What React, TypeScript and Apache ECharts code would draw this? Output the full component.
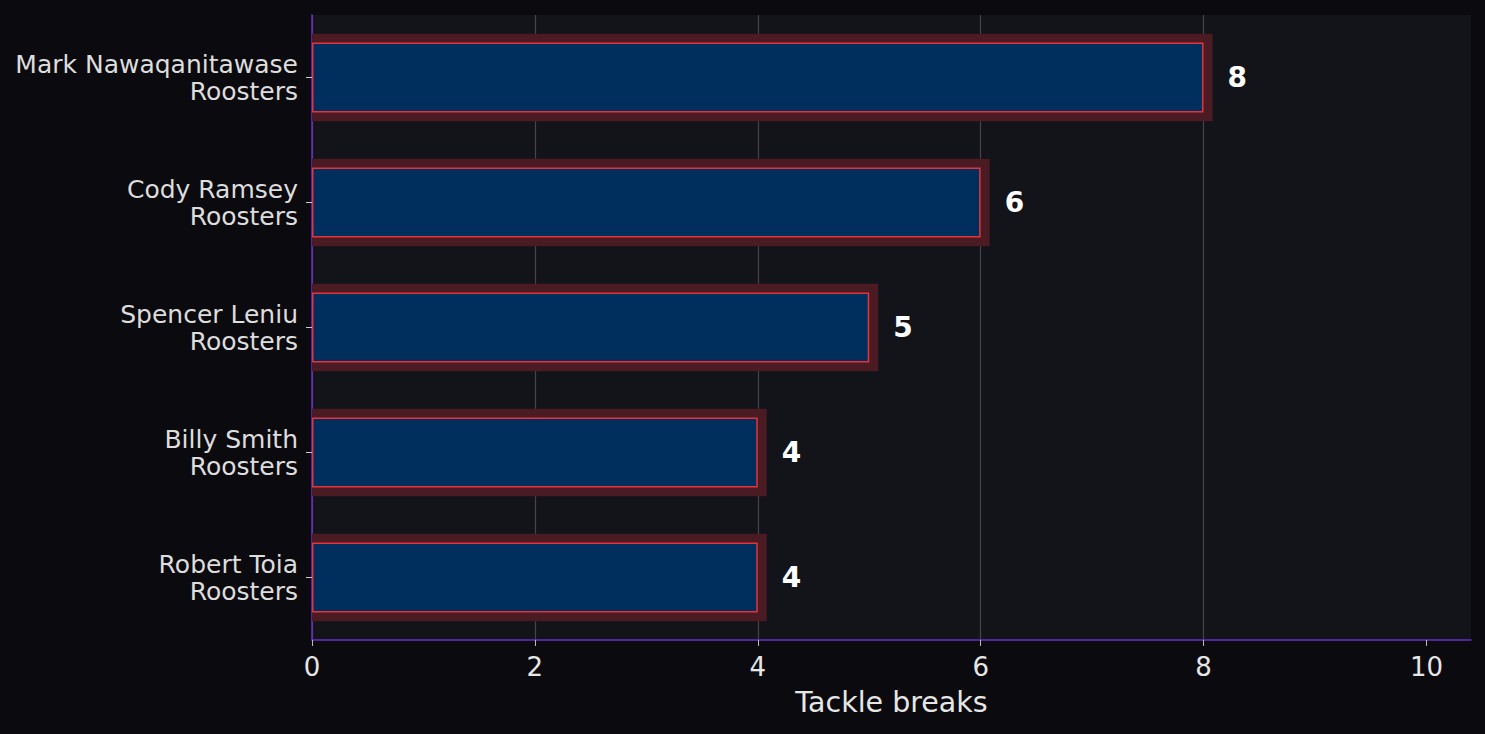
import { useEffect, useRef } from 'react';
import * as echarts from 'echarts';

const players = [
  'Mark Nawaqanitawase\nRoosters',
  'Cody Ramsey\nRoosters',
  'Spencer Leniu\nRoosters',
  'Billy Smith\nRoosters',
  'Robert Toia\nRoosters',
];
const tackleBreaks = [8, 6, 5, 4, 4];
const xTicks = [0, 2, 4, 6, 8, 10];

export default function App() {
  const ref = useRef<HTMLDivElement>(null);

  useEffect(() => {
    if (!ref.current) {
      return undefined;
    }

    const chart = echarts.init(ref.current, null, { renderer: 'svg' });
    const option: echarts.EChartsOption = {
      animation: false,
      backgroundColor: '#0b0a0e',
      textStyle: { fontFamily: 'DejaVu Sans' },
      grid: {
        show: true,
        backgroundColor: '#13131a',
        borderWidth: 0,
        left: 312,
        right: 14,
        top: 15,
        bottom: 94,
      },
      xAxis: {
        type: 'value',
        min: 0,
        max: 10.4,
        interval: 2,
        name: 'Tackle breaks',
        nameLocation: 'middle',
        nameGap: 48,
        nameTextStyle: { color: '#e6e6e6', fontSize: 28.5 },
        axisLine: { show: true, lineStyle: { color: '#6a2fc8', width: 1.5 } },
        axisTick: { show: true, length: 6, lineStyle: { color: '#bbbbbb' }, customValues: xTicks },
        axisLabel: { color: '#e6e6e6', fontSize: 26, margin: 14, customValues: xTicks },
        splitLine: { show: true, showMaxLine: false, lineStyle: { color: '#44444a', width: 1.2 } },
      },
      yAxis: {
        type: 'category',
        inverse: true,
        data: players,
        axisLine: { show: true, lineStyle: { color: '#6a2fc8', width: 1.5 } },
        axisTick: { show: true, alignWithLabel: true, length: 6, lineStyle: { color: '#cccccc' } },
        axisLabel: {
          color: '#dddddd',
          fontSize: 25,
          lineHeight: 27,
          margin: 14,
          align: 'right',
          padding: [16, 0, 0, 0],
        },
        splitLine: { show: false },
      },
      series: [
        {
          type: 'custom',
          z: 1,
          data: tackleBreaks.map((v, i) => [v, i]),
          encode: { x: 0, y: 1 },
          renderItem: (params: any, api: any) => {
            const start = api.coord([0, api.value(1)]);
            const end = api.coord([api.value(0), api.value(1)]);
            const band = api.size([0, 1])[1];
            const h = band * 0.7;
            return {
              type: 'rect',
              shape: { x: start[0], y: start[1] - h / 2, width: end[0] - start[0] + 9, height: h },
              style: { fill: '#4a1b23' },
            };
          },
        },
        {
          type: 'bar',
          z: 3,
          data: tackleBreaks,
          barWidth: '56%',
          itemStyle: { color: '#002f5e', borderColor: '#e6333a', borderWidth: 1.5 },
          label: {
            show: true,
            position: 'right',
            distance: 24,
            color: '#ffffff',
            fontSize: 28,
            fontWeight: 'bold',
          },
        },
      ],
    };

    chart.setOption(option);
    return () => {
      chart.dispose();
    };
  }, []);

  return <div ref={ref} style={{ position: 'fixed', left: 0, top: 0, width: 1485, height: 734 }} />;
}
